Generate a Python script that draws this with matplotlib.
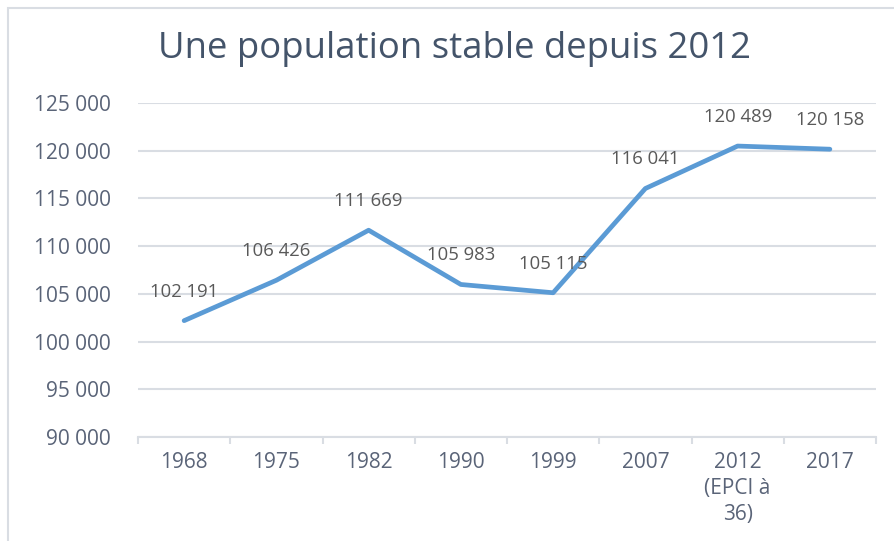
import matplotlib.pyplot as plt
import numpy as np
from matplotlib.patches import Rectangle

annees = ["1968", "1975", "1982", "1990", "1999", "2007", "2012\n(EPCI à\n36)", "2017"]
population = [102191, 106426, 111669, 105983, 105115, 116041, 120489, 120158]
etiquettes = ["102 191", "106 426", "111 669", "105 983", "105 115", "116 041", "120 489", "120 158"]
yticks = [90000, 95000, 100000, 105000, 110000, 115000, 120000, 125000]

plt.rcParams['font.family'] = ['Open Sans', 'DejaVu Sans']
gris = "#595959"
gris_bleu = "#5a6478"
grille = "#d9dde3"

fig = plt.figure(figsize=(8.94, 5.41), dpi=100)
# cadre du graphique
fig.patches.append(Rectangle((8/894, -0.1), 1.0, 1 - 8/541 + 0.1, transform=fig.transFigure,
                             fill=False, edgecolor=grille, linewidth=1.5))
ax = fig.add_axes([138/894, 1 - 437/541, (876-138)/894, (437-103)/541])

x = np.arange(len(annees))
ax.plot(x, population, color="#5b9bd5", linewidth=3.4, solid_capstyle="round", zorder=3)
for xi, yi, lab in zip(x, population, etiquettes):
    ax.annotate(lab, (xi, yi), xytext=(0, 29), textcoords="offset pixels",
                ha="center", va="center", fontsize=13.3, color=gris, zorder=4)

ax.set_xlim(-0.5, len(annees) - 0.5)
ax.set_ylim(90000, 125000)
ax.set_yticks(yticks)
ax.set_yticklabels([f"{v:,}".replace(",", " ") for v in yticks])
ax.set_xticks(x)
ax.set_xticklabels(annees, linespacing=1.3)
ax.set_xticks(np.arange(-0.5, len(annees)), minor=True)
ax.tick_params(axis="x", which="major", length=0, pad=11, labelsize=15, labelcolor=gris_bleu)
ax.tick_params(axis="x", which="minor", length=5, color=grille, width=1.5)
ax.tick_params(axis="y", length=0, pad=19.5, labelsize=15, labelcolor=gris_bleu)
ax.grid(axis="y", color=grille, linewidth=1.5)
ax.set_axisbelow(True)
for s in ["top", "right", "left"]:
    ax.spines[s].set_visible(False)
ax.spines["bottom"].set_color(grille)
ax.spines["bottom"].set_linewidth(1.5)

fig.text(455/894, 1 - 49/541, "Une population stable depuis 2012", ha="center", va="center",
         fontsize=26.3, color="#44546a")

fig.savefig("out.png", dpi=100)
